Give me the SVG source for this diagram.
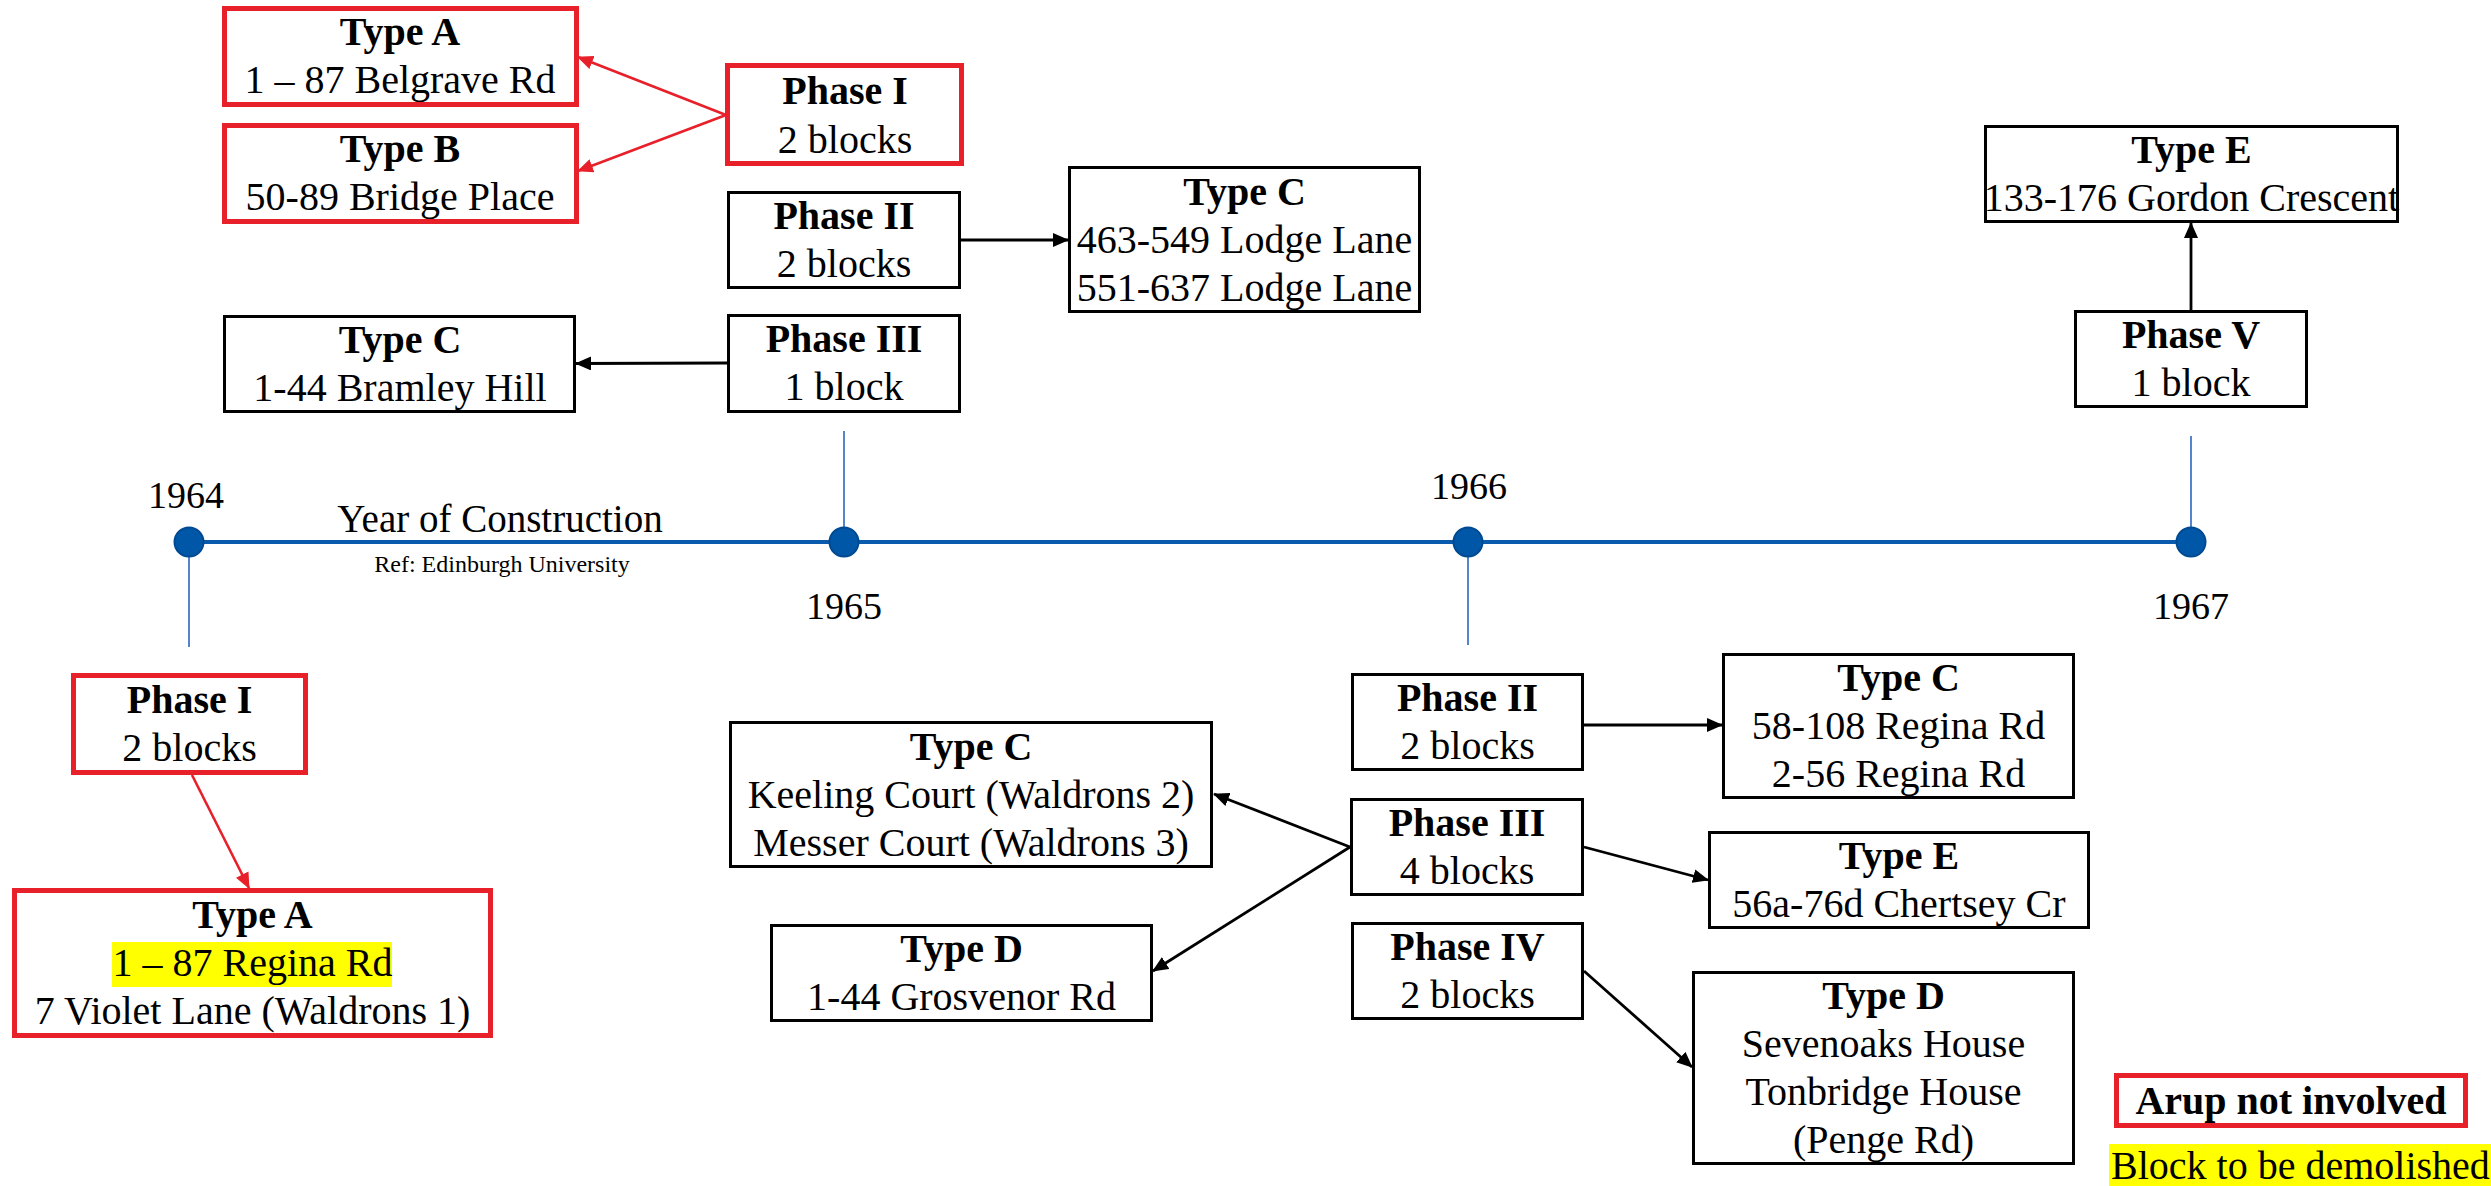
<svg xmlns="http://www.w3.org/2000/svg" width="2491" height="1186" viewBox="0 0 2491 1186">
<defs>
<style>
text{font-family:"Liberation Serif","Times New Roman",serif;font-size:40px;fill:#000;text-anchor:middle}
.b{font-weight:bold}
.blk{fill:#fff;stroke:#000;stroke-width:3}
.red{fill:#fff;stroke:#E8202A;stroke-width:5}
.ca{stroke:#000;stroke-width:2.8;fill:none}
.cr{stroke:#E8202A;stroke-width:2.6;fill:none}
.tick{stroke:#2A66C0;stroke-width:1.6}
.yr{font-size:38px}
</style>
<marker id="ab" markerUnits="userSpaceOnUse" markerWidth="16" markerHeight="14" refX="15" refY="7" orient="auto">
<path d="M0,0 L16,7 L0,14 z" fill="#000"/>
</marker>
<marker id="ar" markerUnits="userSpaceOnUse" markerWidth="16" markerHeight="14" refX="15" refY="7" orient="auto">
<path d="M0,0 L16,7 L0,14 z" fill="#E8202A"/>
</marker>
</defs>
<rect width="2491" height="1186" fill="#fff"/>

<g id="timeline">
<line x1="189" y1="542" x2="2191" y2="542" stroke="#0A5AAE" stroke-width="4"/>
<line class="tick" x1="189" y1="542" x2="189" y2="647"/>
<line class="tick" x1="844" y1="431" x2="844" y2="542"/>
<line class="tick" x1="1468" y1="542" x2="1468" y2="645"/>
<line class="tick" x1="2191" y1="436" x2="2191" y2="542"/>
<circle cx="189" cy="542" r="14.5" fill="#0057A8" stroke="#004A92" stroke-width="2"/>
<circle cx="844" cy="542" r="14.5" fill="#0057A8" stroke="#004A92" stroke-width="2"/>
<circle cx="1468" cy="542" r="14.5" fill="#0057A8" stroke="#004A92" stroke-width="2"/>
<circle cx="2191" cy="542" r="14.5" fill="#0057A8" stroke="#004A92" stroke-width="2"/>
<text class="yr" x="186" y="508">1964</text>
<text class="yr" x="844" y="619">1965</text>
<text class="yr" x="1469" y="499">1966</text>
<text class="yr" x="2191" y="619">1967</text>
<text x="500" y="532" style="font-size:39px">Year of Construction</text>
<text x="502" y="572" style="font-size:24px">Ref: Edinburgh University</text>
</g>

<g id="connectors">
<line class="cr" x1="726" y1="115" x2="578" y2="57" marker-end="url(#ar)"/>
<line class="cr" x1="726" y1="115" x2="578" y2="171" marker-end="url(#ar)"/>
<line class="cr" x1="192" y1="775" x2="249" y2="888" marker-end="url(#ar)"/>
<line class="ca" x1="961" y1="240" x2="1068" y2="240" marker-end="url(#ab)"/>
<line class="ca" x1="727" y1="363" x2="576" y2="363.5" marker-end="url(#ab)"/>
<line class="ca" x1="2191" y1="310" x2="2191" y2="223" marker-end="url(#ab)"/>
<line class="ca" x1="1584" y1="725" x2="1722" y2="725" marker-end="url(#ab)"/>
<line class="ca" x1="1584" y1="847" x2="1708" y2="880" marker-end="url(#ab)"/>
<line class="ca" x1="1584" y1="971" x2="1692" y2="1067" marker-end="url(#ab)"/>
<line class="ca" x1="1350" y1="847" x2="1214" y2="794" marker-end="url(#ab)"/>
<line class="ca" x1="1350" y1="847" x2="1153" y2="971" marker-end="url(#ab)"/>
</g>

<g id="typeA-belgrave">
<rect class="red" x="224.5" y="8.5" width="352" height="96"/>
<text class="b" x="400" y="45">Type A</text>
<text x="400" y="93">1 – 87 Belgrave Rd</text>
</g>
<g id="typeB-bridge">
<rect class="red" x="224.5" y="125.5" width="352" height="96"/>
<text class="b" x="400" y="162">Type B</text>
<text x="400" y="210">50-89 Bridge Place</text>
</g>
<g id="phase1-1964">
<rect class="red" x="727.5" y="65.5" width="234" height="98"/>
<text class="b" x="845" y="104">Phase I</text>
<text x="845" y="153">2 blocks</text>
</g>
<g id="phase2-1964">
<rect class="blk" x="728.5" y="192.5" width="231" height="95"/>
<text class="b" x="844" y="229">Phase II</text>
<text x="844" y="277">2 blocks</text>
</g>
<g id="typeC-lodge">
<rect class="blk" x="1069.5" y="167.5" width="350" height="144"/>
<text class="b" x="1244.5" y="205">Type C</text>
<text x="1244.5" y="253">463-549 Lodge Lane</text>
<text x="1244.5" y="301">551-637 Lodge Lane</text>
</g>
<g id="typeC-bramley">
<rect class="blk" x="224.5" y="316.5" width="350" height="95"/>
<text class="b" x="400" y="353">Type C</text>
<text x="400" y="401">1-44 Bramley Hill</text>
</g>
<g id="phase3-1964">
<rect class="blk" x="728.5" y="315.5" width="231" height="96"/>
<text class="b" x="844" y="352">Phase III</text>
<text x="844" y="400">1 block</text>
</g>
<g id="typeE-gordon">
<rect class="blk" x="1985.5" y="126.5" width="412" height="95"/>
<text class="b" x="2191.5" y="163">Type E</text>
<text x="2191.5" y="211">133-176 Gordon Crescent</text>
</g>
<g id="phase5-1966">
<rect class="blk" x="2075.5" y="311.5" width="231" height="95"/>
<text class="b" x="2191" y="348">Phase V</text>
<text x="2191" y="396">1 block</text>
</g>
<g id="phase1-bottom">
<rect class="red" x="73.5" y="675.5" width="232" height="97"/>
<text class="b" x="189.5" y="713">Phase I</text>
<text x="189.5" y="761">2 blocks</text>
</g>
<g id="typeA-regina">
<rect class="red" x="14.5" y="890.5" width="476" height="145"/>
<rect x="112" y="942" width="280" height="45" fill="#FFFF00"/>
<text class="b" x="252.5" y="928">Type A</text>
<text x="252.5" y="976">1 – 87 Regina Rd</text>
<text x="252.5" y="1024">7 Violet Lane (Waldrons 1)</text>
</g>
<g id="typeC-keeling">
<rect class="blk" x="730.5" y="722.5" width="481" height="144"/>
<text class="b" x="971" y="760">Type C</text>
<text x="971" y="808">Keeling Court (Waldrons 2)</text>
<text x="971" y="856">Messer Court (Waldrons 3)</text>
</g>
<g id="typeD-grosvenor">
<rect class="blk" x="771.5" y="925.5" width="380" height="95"/>
<text class="b" x="961.5" y="962">Type D</text>
<text x="961.5" y="1010">1-44 Grosvenor Rd</text>
</g>
<g id="phase2-1965">
<rect class="blk" x="1352.5" y="674.5" width="230" height="95"/>
<text class="b" x="1467.5" y="711">Phase II</text>
<text x="1467.5" y="759">2 blocks</text>
</g>
<g id="typeC-regina">
<rect class="blk" x="1723.5" y="654.5" width="350" height="143"/>
<text class="b" x="1898.5" y="691">Type C</text>
<text x="1898.5" y="739">58-108 Regina Rd</text>
<text x="1898.5" y="787">2-56 Regina Rd</text>
</g>
<g id="phase3-1965">
<rect class="blk" x="1351.5" y="799.5" width="231" height="95"/>
<text class="b" x="1467" y="836">Phase III</text>
<text x="1467" y="884">4 blocks</text>
</g>
<g id="typeE-chertsey">
<rect class="blk" x="1709.5" y="832.5" width="379" height="95"/>
<text class="b" x="1899" y="869">Type E</text>
<text x="1899" y="917">56a-76d Chertsey Cr</text>
</g>
<g id="phase4-1965">
<rect class="blk" x="1352.5" y="923.5" width="230" height="95"/>
<text class="b" x="1467.5" y="960">Phase IV</text>
<text x="1467.5" y="1008">2 blocks</text>
</g>
<g id="typeD-sevenoaks">
<rect class="blk" x="1693.5" y="972.5" width="380" height="191"/>
<text class="b" x="1883.5" y="1009">Type D</text>
<text x="1883.5" y="1057">Sevenoaks House</text>
<text x="1883.5" y="1105">Tonbridge House</text>
<text x="1883.5" y="1153">(Penge Rd)</text>
</g>
<g id="legend-arup">
<rect class="red" x="2116.5" y="1075.5" width="349" height="50"/>
<text class="b" x="2291" y="1114">Arup not involved</text>
</g>
<g id="legend-demolished">
<rect x="2109" y="1144" width="382" height="42" fill="#FFFF00"/>
<text x="2111" y="1179" style="text-anchor:start">Block to be demolished</text>
</g>
</svg>
